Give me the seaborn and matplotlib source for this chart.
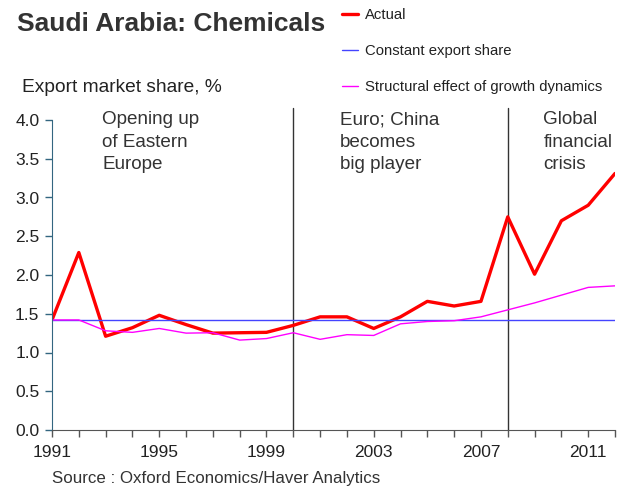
import numpy as np
import pandas as pd
import matplotlib
matplotlib.use("Agg")
import matplotlib.pyplot as plt
import seaborn as sns

years = list(range(1991, 2013))
actual = [1.42, 2.29, 1.21, 1.32, 1.48, 1.36, 1.25, 1.255, 1.26, 1.35, 1.46,
          1.46, 1.31, 1.46, 1.66, 1.60, 1.66, 2.75, 2.01, 2.70, 2.90, 3.31]
constant_share = [1.42] * len(years)
structural = [1.42, 1.42, 1.28, 1.26, 1.31, 1.25, 1.255, 1.16, 1.18, 1.255, 1.17,
              1.23, 1.22, 1.37, 1.40, 1.41, 1.46, 1.55, 1.64, 1.74, 1.84, 1.86]

events = [2000, 2008]
event_labels = ["Opening up\nof Eastern\nEurope", "Euro; China\nbecomes\nbig player",
                "Global\nfinancial\ncrisis"]
event_label_x = [1992.87, 2001.73, 2009.33]

sns.set_style("white")
plt.rcParams["font.family"] = ["Liberation Sans", "DejaVu Sans"]

df = pd.DataFrame({"year": years, "Actual": actual,
                   "Constant export share": constant_share,
                   "Structural effect of growth dynamics": structural})

fig = plt.figure(figsize=(6.17, 4.90), dpi=100)
ax = fig.add_axes([52 / 617, 60 / 490, 563 / 617, 310 / 490])

sns.lineplot(data=df, x="year", y="Actual", ax=ax, color="#ff0000", lw=2.4, label="Actual")
sns.lineplot(data=df, x="year", y="Constant export share", ax=ax, color="#4444ff", lw=1.0,
             label="Constant export share")
sns.lineplot(data=df, x="year", y="Structural effect of growth dynamics", ax=ax,
             color="#ff00ff", lw=1.0, label="Structural effect of growth dynamics")

for e in events:
    ax.plot([e, e], [0, 4.15], color="#333333", lw=1.0, clip_on=False, zorder=1)

for lbl, x in zip(event_labels, event_label_x):
    ax.text(x, 4.11, lbl, va="top", ha="left", fontsize=13.6, color="#333333",
            linespacing=1.42)

ax.set_xlim(1991, 2012)
ax.set_ylim(0, 4.0)
ax.set_yticks(np.arange(0, 4.01, 0.5))
ax.set_yticklabels([f"{v:.1f}" for v in np.arange(0, 4.01, 0.5)])
ax.set_xticks(years, minor=True)
ax.set_xticks([1991, 1995, 1999, 2003, 2007, 2011])
ax.set_xlabel("")
ax.set_ylabel("")
ax.tick_params(axis="both", which="both", direction="out", labelsize=12.5,
               labelcolor="#222222", bottom=True, left=True)
ax.tick_params(axis="y", length=5, width=1, color="#336680", pad=4)
ax.tick_params(axis="x", which="both", length=5, width=1, color="#555555", pad=6)
for s in ["top", "right"]:
    ax.spines[s].set_visible(False)
ax.spines["left"].set_color("#336680")
ax.spines["bottom"].set_color("#555555")

handles, labels = ax.get_legend_handles_labels()
ax.get_legend().remove()
fig.legend(handles, labels, loc="upper left", bbox_to_anchor=(342 / 617, 1 - 8 / 490),
           frameon=False, fontsize=10.7, labelspacing=1.48, handlelength=1.1,
           handletextpad=0.45, borderpad=0, borderaxespad=0, labelcolor="#222222")

fig.text(17 / 617, 1 - 24 / 490, "Saudi Arabia: Chemicals", fontsize=19, weight="bold",
         color="#333333", va="center", ha="left")
fig.text(22 / 617, 1 - 88 / 490, "Export market share, %", fontsize=13.8, color="#222222",
         va="center", ha="left")
fig.text(52 / 617, 1 - 478 / 490, "Source : Oxford Economics/Haver Analytics", fontsize=12.2,
         color="#333333", va="center", ha="left")

fig.savefig("out.png", dpi=100)
